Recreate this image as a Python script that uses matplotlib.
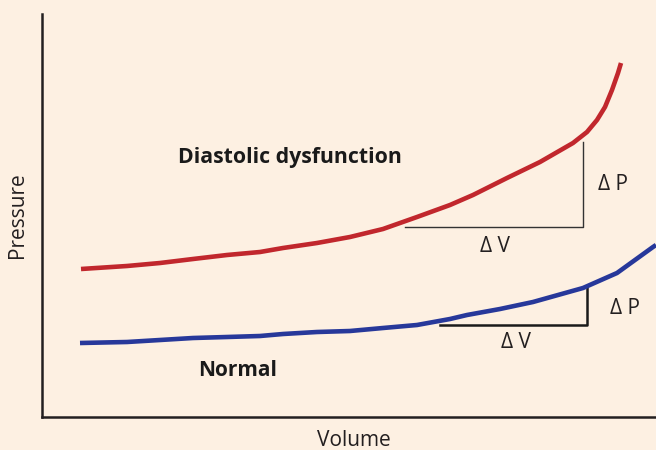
import matplotlib.pyplot as plt

plt.rcParams['font.family'] = ['Open Sans', 'DejaVu Sans']

# curve values (volume, pressure) in arbitrary units
dysf_vol = [39, 85, 118, 151, 185, 218, 241, 275, 308, 341, 358, 375, 408,
            431, 465, 498, 531, 545, 555, 563, 570, 576, 579]
dysf_prs = [148, 151, 154, 158, 162, 165, 169, 174, 180, 188, 194, 200, 212,
            222, 239, 255, 274, 285, 297, 310, 327, 344, 354]
normal_vol = [38, 85, 118, 151, 185, 218, 241, 275, 308, 341, 375, 408, 425,
              458, 491, 541, 575, 611, 614]
normal_prs = [74, 75, 77, 79, 80, 81, 83, 85, 86, 89, 92, 98, 102,
              108, 115, 129, 144, 170, 172]

# slope triangles: (v0, v1, p0, p1)
dysf_tri = (363, 541, 190, 275)
normal_tri = (398, 545, 92, 130)

bg = '#fdf0e2'
red = '#c1272d'
blue = '#27389a'
ink = '#231f20'

fig = plt.figure(figsize=(6.56, 4.5), dpi=100, facecolor=bg)
ax = fig.add_axes([42 / 656, 33 / 450, 614 / 656, 403 / 450], facecolor=bg)
ax.set_xlim(0, 614)
ax.set_ylim(0, 403)

ax.plot(dysf_vol, dysf_prs, color=red, lw=3.3, solid_capstyle='butt',
        solid_joinstyle='round')
ax.plot(normal_vol, normal_prs, color=blue, lw=3.3, solid_capstyle='butt',
        solid_joinstyle='round', clip_on=False)

v0, v1, p0, p1 = dysf_tri
ax.plot([v0, v1, v1], [p0, p0, p1], color='#333333', lw=1.0, zorder=1)
v0, v1, p0, p1 = normal_tri
ax.plot([v0, v1, v1], [p0, p0, p1], color='#1a1a1a', lw=1.8, zorder=1)

ax.text(136, 260, 'Diastolic dysfunction', fontsize=15.3, fontweight='bold',
        color='#1a1a1a', va='center', ha='left')
ax.text(156, 47, 'Normal', fontsize=15, fontweight='bold', color='#1a1a1a',
        va='center', ha='left')
ax.text(556, 233, '\u0394 P', fontsize=15, color=ink, va='center', ha='left')
ax.text(453, 171, '\u0394 V', fontsize=15, color=ink, va='center', ha='center')
ax.text(568, 109, '\u0394 P', fontsize=15, color=ink, va='center', ha='left')
ax.text(474, 75, '\u0394 V', fontsize=15, color=ink, va='center', ha='center')

for s in ['top', 'right']:
    ax.spines[s].set_visible(False)
for s in ['left', 'bottom']:
    ax.spines[s].set_linewidth(1.8)
    ax.spines[s].set_color(ink)
ax.set_xticks([])
ax.set_yticks([])
ax.set_xlabel('Volume', fontsize=15, color=ink, labelpad=9)
ax.xaxis.label.set_x(0.508)
ax.set_ylabel('Pressure', fontsize=15, color=ink, labelpad=10)

fig.savefig('out.png', dpi=100, facecolor=bg)
